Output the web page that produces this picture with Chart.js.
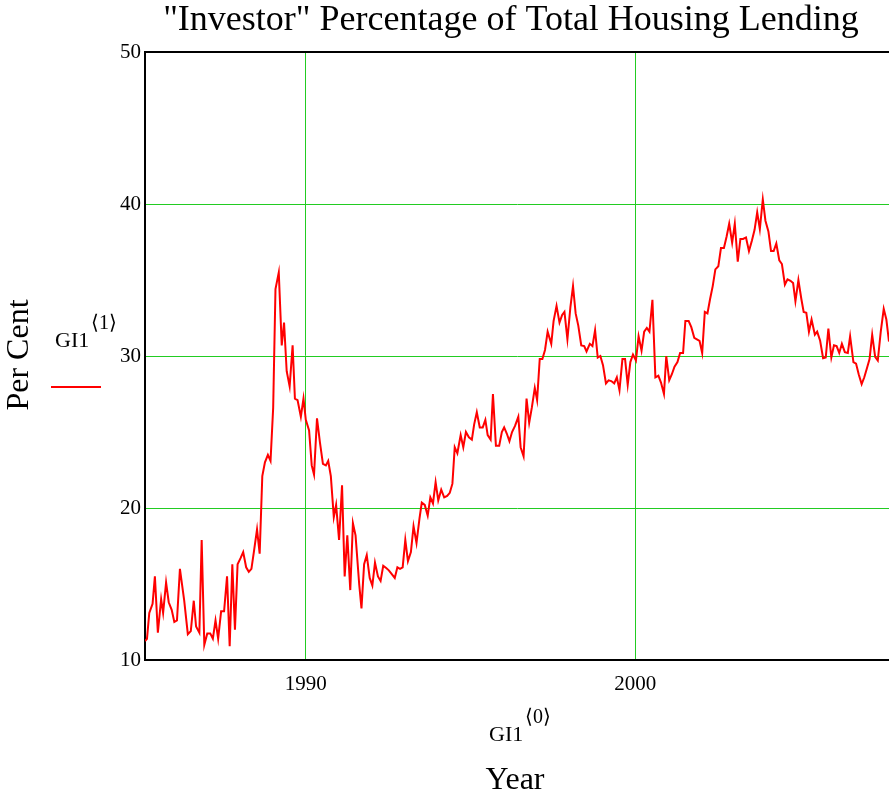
<!DOCTYPE html>
<html>
<head>
<meta charset="utf-8">
<script src="https://cdn.jsdelivr.net/npm/chart.js@4.4.0/dist/chart.umd.min.js"></script>
<style>
  html, body { margin: 0; padding: 0; background: #fff; }
  #wrap { width: 889px; height: 792px; }
</style>
</head>
<body>
<div id="wrap"><canvas id="c" width="889" height="792"></canvas></div>
<script>
// dates (decimal years) and investor share of housing lending (%)
const years = [
  1985.12, 1985.18, 1985.25, 1985.35, 1985.42, 1985.51, 1985.61, 1985.67, 1985.76, 1985.84,
  1985.93, 1986.01, 1986.09, 1986.18, 1986.31, 1986.42, 1986.51, 1986.60, 1986.67, 1986.77,
  1986.84, 1986.92, 1987.01, 1987.10, 1987.18, 1987.26, 1987.34, 1987.43, 1987.52, 1987.61,
  1987.69, 1987.77, 1987.85, 1987.93, 1988.02, 1988.10, 1988.19, 1988.27, 1988.35, 1988.43,
  1988.52, 1988.60, 1988.68, 1988.76, 1988.85, 1988.93, 1989.01, 1989.08, 1989.18, 1989.27,
  1989.34, 1989.42, 1989.51, 1989.60, 1989.67, 1989.75, 1989.85, 1989.93, 1990.00, 1990.10,
  1990.18, 1990.25, 1990.34, 1990.43, 1990.52, 1990.61, 1990.68, 1990.76, 1990.85, 1990.92,
  1991.01, 1991.10, 1991.18, 1991.26, 1991.35, 1991.43, 1991.51, 1991.62, 1991.69, 1991.77,
  1991.85, 1991.94, 1992.02, 1992.10, 1992.19, 1992.27, 1992.35, 1992.44, 1992.52, 1992.61,
  1992.70, 1992.78, 1992.86, 1992.94, 1993.02, 1993.10, 1993.19, 1993.27, 1993.36, 1993.45,
  1993.52, 1993.61, 1993.70, 1993.78, 1993.86, 1993.94, 1994.02, 1994.11, 1994.20, 1994.29,
  1994.37, 1994.45, 1994.52, 1994.60, 1994.70, 1994.78, 1994.86, 1994.95, 1995.04, 1995.11,
  1995.19, 1995.28, 1995.37, 1995.45, 1995.52, 1995.61, 1995.68, 1995.77, 1995.87, 1995.95,
  1996.02, 1996.10, 1996.18, 1996.26, 1996.35, 1996.45, 1996.52, 1996.61, 1996.70, 1996.78,
  1996.86, 1996.95, 1997.02, 1997.10, 1997.18, 1997.26, 1997.34, 1997.45, 1997.52, 1997.61,
  1997.70, 1997.78, 1997.85, 1997.94, 1998.03, 1998.11, 1998.19, 1998.27, 1998.36, 1998.45,
  1998.52, 1998.62, 1998.70, 1998.78, 1998.86, 1998.94, 1999.02, 1999.11, 1999.19, 1999.27,
  1999.36, 1999.44, 1999.52, 1999.61, 1999.69, 1999.77, 1999.85, 1999.93, 2000.02, 2000.10,
  2000.19, 2000.27, 2000.35, 2000.43, 2000.52, 2000.61, 2000.70, 2000.78, 2000.87, 2000.94,
  2001.03, 2001.11, 2001.19, 2001.28, 2001.36, 2001.45, 2001.52, 2001.62, 2001.70, 2001.79,
  2001.87, 2001.95, 2002.03, 2002.11, 2002.19, 2002.27, 2002.35, 2002.43, 2002.52, 2002.60,
  2002.69, 2002.77, 2002.85, 2002.94, 2003.02, 2003.11, 2003.19, 2003.27, 2003.36, 2003.45,
  2003.54, 2003.62, 2003.70, 2003.78, 2003.87, 2003.95, 2004.04, 2004.12, 2004.20, 2004.28,
  2004.37, 2004.45, 2004.54, 2004.62, 2004.71, 2004.79, 2004.86, 2004.95, 2005.04, 2005.11,
  2005.19, 2005.27, 2005.35, 2005.45, 2005.52, 2005.61, 2005.70, 2005.78, 2005.86, 2005.95,
  2006.03, 2006.11, 2006.19, 2006.27, 2006.36, 2006.45, 2006.52, 2006.62, 2006.70, 2006.78,
  2006.87, 2006.95, 2007.03, 2007.11, 2007.19, 2007.28, 2007.36, 2007.45, 2007.54, 2007.62,
  2007.70
]
const perCent = [
  11.25, 11.4, 13.1, 13.7, 15.5, 11.8, 14.0, 13.1, 15.1, 13.8,
  13.3, 12.5, 12.6, 16.0, 13.9, 11.7, 11.9, 13.9, 12.2, 11.8,
  17.9, 11.0, 11.75, 11.75, 11.4, 12.6, 11.4, 13.2, 13.2, 15.5,
  10.9, 16.3, 12.0, 16.3, 16.7, 17.1, 16.1, 15.8, 16.0, 17.2,
  18.6, 17.0, 22.1, 23.0, 23.5, 23.1, 26.6, 34.4, 35.5, 30.7,
  32.2, 29.0, 28.0, 30.7, 27.2, 27.1, 26.0, 27.2, 25.8, 25.1,
  22.8, 22.2, 25.9, 24.3, 22.9, 22.8, 23.1, 22.1, 19.4, 20.2,
  17.9, 21.5, 15.5, 18.2, 14.6, 19.0, 18.2, 15.0, 13.4, 16.3,
  16.9, 15.4, 14.9, 16.4, 15.5, 15.2, 16.2, 16.05, 15.9, 15.65,
  15.4, 16.1, 16.0, 16.1, 17.9, 16.5, 17.1, 18.8, 17.7, 19.3,
  20.35, 20.2, 19.5, 20.7, 20.3, 21.7, 20.5, 21.2, 20.7, 20.8,
  21.0, 21.6, 24.0, 23.6, 24.8, 24.0, 25.0, 24.65, 24.5, 25.5,
  26.3, 25.3, 25.3, 25.8, 24.8, 24.5, 27.5, 24.1, 24.1, 25.0,
  25.3, 24.9, 24.4, 25.0, 25.4, 26.0, 24.0, 23.4, 27.2, 25.6,
  26.6, 27.9, 27.1, 29.8, 29.8, 30.4, 31.6, 30.8, 32.3, 33.3,
  32.2, 32.7, 32.9, 31.1, 33.2, 34.6, 32.8, 32.0, 30.7, 30.65,
  30.3, 30.8, 30.65, 31.7, 29.9, 30.0, 29.4, 28.2, 28.4, 28.35,
  28.2, 28.6, 27.75, 29.8, 29.8, 28.1, 29.6, 30.1, 29.7, 31.3,
  30.35, 31.6, 31.85, 31.6, 33.7, 28.6, 28.7, 28.25, 27.5, 30.0,
  28.4, 28.8, 29.3, 29.6, 30.2, 30.2, 32.3, 32.3, 31.9, 31.2,
  31.1, 31.0, 30.2, 32.9, 32.8, 33.75, 34.6, 35.7, 35.9, 37.1,
  37.1, 37.85, 38.7, 37.45, 38.7, 36.2, 37.7, 37.7, 37.8, 36.9,
  37.6, 38.3, 39.45, 38.35, 40.3, 38.9, 38.2, 36.9, 36.9, 37.4,
  36.3, 36.05, 34.7, 35.05, 34.95, 34.8, 33.6, 35.0, 33.75, 32.9,
  32.85, 31.6, 32.4, 31.4, 31.6, 31.0, 29.85, 29.9, 31.8, 29.9,
  30.7, 30.65, 30.2, 30.8, 30.25, 30.2, 31.3, 29.6, 29.5, 28.8,
  28.15, 28.6, 29.2, 29.8, 31.4, 29.95, 29.7, 31.6, 33.1, 32.4,
  30.95
]
const xTicks = [1990, 2000]
const yTicks = [10, 20, 30, 40, 50]

const serif = '"Liberation Serif", "Times New Roman", serif'
const gridGreen = '#22cc22'

// text, legend stub and top frame line drawn around the plot
const decorations = {
  id: 'decorations',
  afterDraw(chart) {
    const { ctx, chartArea: a } = chart
    ctx.save()
    ctx.strokeStyle = '#000'
    ctx.lineWidth = 2
    ctx.beginPath()
    ctx.moveTo(a.left - 1, a.top)
    ctx.lineTo(a.right, a.top)
    ctx.stroke()

    ctx.fillStyle = '#000'
    ctx.textBaseline = 'alphabetic'
    ctx.textAlign = 'center'
    ctx.font = '36px ' + serif
    ctx.fillText('"Investor" Percentage of Total Housing Lending', 511, 30)

    ctx.font = '32px ' + serif
    ctx.fillText('Year', 515, 789)

    ctx.save()
    ctx.translate(28, 355)
    ctx.rotate(-Math.PI / 2)
    ctx.fillText('Per Cent', 0, 0)
    ctx.restore()

    ctx.textAlign = 'left'
    ctx.font = '22px ' + serif
    ctx.fillText('GI1', 55, 347)
    ctx.fillText('GI1', 489, 741)
    ctx.font = '20px ' + serif
    ctx.fillText('\u27E81\u27E9', 91, 329)
    ctx.fillText('\u27E80\u27E9', 525, 723)

    ctx.strokeStyle = '#ff0000'
    ctx.lineWidth = 2
    ctx.beginPath()
    ctx.moveTo(51, 387)
    ctx.lineTo(101, 387)
    ctx.stroke()
    ctx.restore()
  }
}

new Chart(document.getElementById('c'), {
  type: 'line',
  data: {
    datasets: [{
      label: 'GI1',
      data: years.map((x, i) => ({ x: x, y: perCent[i] })),
      borderColor: '#ff0000',
      borderWidth: 2,
      pointRadius: 0,
      tension: 0,
      fill: false
    }]
  },
  options: {
    responsive: false,
    animation: false,
    layout: { padding: { top: 52, right: 0, left: 0, bottom: 0 } },
    plugins: {
      legend: { display: false },
      tooltip: { enabled: false }
    },
    scales: {
      x: {
        type: 'linear',
        min: 1985.12,
        max: 2007.70,
        afterBuildTicks: (s) => { s.ticks = xTicks.map(v => ({ value: v })) },
        afterFit: (s) => { s.height = 132 },
        grid: { color: gridGreen, lineWidth: 1, drawTicks: false },
        border: { color: '#000', width: 2 },
        ticks: {
          color: '#000',
          padding: 12,
          maxRotation: 0,
          font: { family: serif, size: 21 },
          callback: (v) => String(v)
        }
      },
      y: {
        min: 10,
        max: 50,
        afterBuildTicks: (s) => { s.ticks = yTicks.map(v => ({ value: v })) },
        afterFit: (s) => { s.width = 145 },
        grid: {
          color: (c) => (c.tick && (c.tick.value === 10 || c.tick.value === 50)) ? 'rgba(0,0,0,0)' : gridGreen,
          lineWidth: 1,
          drawTicks: false
        },
        border: { color: '#000', width: 2 },
        ticks: {
          color: '#000',
          padding: 4,
          font: { family: serif, size: 21 }
        }
      }
    }
  },
  plugins: [decorations]
})
</script>
</body>
</html>
